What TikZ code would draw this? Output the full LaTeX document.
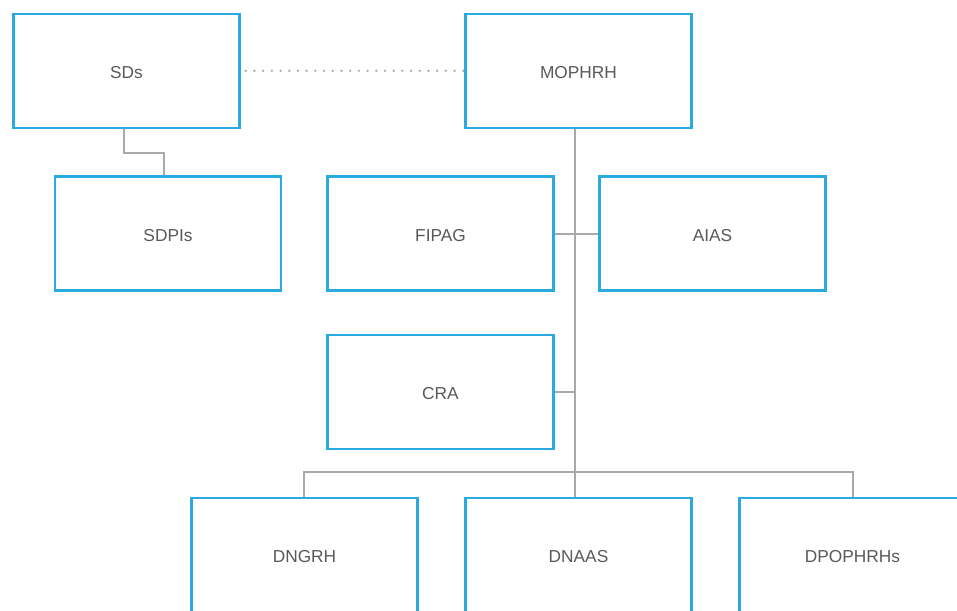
\documentclass[tikz,border=0pt]{standalone}
\usepackage{fontspec}
\setmainfont{Liberation Sans}
\usepackage{tikz}

\definecolor{boxblue}{HTML}{29ABE2}
\definecolor{linkgray}{HTML}{A7A9AC}
\definecolor{textgray}{HTML}{58595B}

\begin{document}
\begin{tikzpicture}[x=1pt, y=-1pt,
    unit/.style={draw=boxblue, line width=2.5pt, fill=white, inner sep=0pt,
      minimum width=226pt, minimum height=114pt, text=textgray,
      text height=15.6pt, text depth=0pt,
      font=\fontsize{17.3}{19}\selectfont},
    link/.style={draw=linkgray, line width=2pt},
    dotline/.style={draw=linkgray, line width=2.6pt, line cap=round,
      dash pattern=on 0pt off 8.7pt}]
  \useasboundingbox (0,0) rectangle (957,610);
  \clip (0,0) rectangle (957,610);

  % trunk and bus of the ministry
  \coordinate (trunk) at (575,0);
  \coordinate (bus) at (0,472);

  \node[unit] (sds) at (126.5,70.8) {SDs};
  \node[unit] (mophrh) at (578.5,70.8) {MOPHRH};
  \node[unit] (sdpis) at (168,233.5) {SDPIs};
  \node[unit] (fipag) at (440.5,233.5) {FIPAG};
  \node[unit] (aias) at (712.5,233.5) {AIAS};
  \node[unit] (cra) at (440.5,392) {CRA};
  \node[unit] (dngrh) at (304.5,555) {DNGRH};
  \node[unit] (dnaas) at (578.5,555) {DNAAS};
  \node[unit] (dpophrhs) at (852.5,555) {DPOPHRHs};

  % connectors
  \draw[dotline] (sds.east) ++(5,0) -- ([xshift=2]mophrh.west);
  \draw[link] ([xshift=-3]sds.south) -- ++(0,23.5) -| ([xshift=-4.5]sdpis.north);
  \draw[link] (mophrh.south -| trunk) -- (dnaas.north -| trunk);
  \draw[link] (fipag.east) -- (aias.west);
  \draw[link] (cra.east) -- (cra.east -| trunk);
  \draw[link] ([xshift=-0.5]dngrh.north) -- ([xshift=-0.5]dngrh.north |- bus)
    -- ([xshift=0.5]dpophrhs.north |- bus) -- ([xshift=0.5]dpophrhs.north);
\end{tikzpicture}
\end{document}
